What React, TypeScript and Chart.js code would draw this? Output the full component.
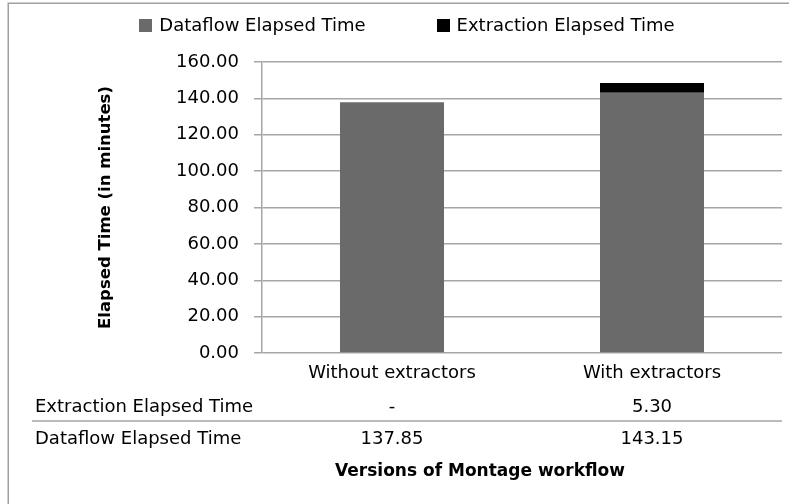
import React, { useEffect, useRef } from "react";
import { Chart, registerables } from "chart.js";

Chart.register(...registerables);

// ---- data ----
const categories = ["Without extractors", "With extractors"];
const dataflowTimes = [137.85, 143.15];
const extractionTimes = [0, 5.3];
const seriesNames = ["Dataflow Elapsed Time", "Extraction Elapsed Time"];
const seriesColors = ["#6a6a6a", "#000000"];
const yMin = 0;
const yMax = 160;
const yStep = 20;
const yTitle = "Elapsed Time (in minutes)";
const xTitle = "Versions of Montage workflow";
// order of rows in the data table (dataset indexes)
const tableRowOrder = [1, 0];

const FONT = "'DejaVu Sans', sans-serif";
const GRID = "#a6a6a6";

const fmt = (v: number) => (v === 0 ? "-" : v.toFixed(2));

const decorPlugin = {
  id: "decor",
  afterDraw(chart: any) {
    const { ctx, scales, chartArea } = chart;
    const xs = scales.x;
    ctx.save();

    // outer frame (left and top edges visible)
    ctx.strokeStyle = "#a0a0a0";
    ctx.lineWidth = 1.5;
    ctx.beginPath();
    ctx.moveTo(8.25, chart.height);
    ctx.lineTo(8.25, 3.25);
    ctx.lineTo(chart.width, 3.25);
    ctx.stroke();

    const tableLeft = 32;
    const groupCenter = (tableLeft + chartArea.right) / 2;

    // legend
    ctx.font = `18px ${FONT}`;
    ctx.textBaseline = "middle";
    const ds = chart.data.datasets;
    const box = 13;
    const gapBT = 7;
    const gapItems = 71;
    const widths = ds.map((d: any) => box + gapBT + ctx.measureText(d.label).width);
    const total = widths.reduce((a: number, b: number) => a + b, 0) + gapItems * (ds.length - 1);
    let lx = groupCenter - total / 2;
    const ly = 25;
    ds.forEach((d: any, i: number) => {
      ctx.fillStyle = d.backgroundColor;
      ctx.fillRect(Math.round(lx), Math.round(ly - box / 2), box, box);
      ctx.fillStyle = "#000";
      ctx.textAlign = "left";
      ctx.fillText(d.label, lx + box + gapBT, ly + 1);
      lx += widths[i] + gapItems;
    });

    // data table
    const rowYs = [chartArea.bottom + 54, chartArea.bottom + 86];
    const sepY = chartArea.bottom + 68;
    ctx.strokeStyle = GRID;
    ctx.lineWidth = 1.5;
    ctx.beginPath();
    ctx.moveTo(tableLeft, sepY);
    ctx.lineTo(chartArea.right, sepY);
    ctx.stroke();

    ctx.font = `18px ${FONT}`;
    ctx.fillStyle = "#000";
    tableRowOrder.forEach((dsIndex, r) => {
      const d = ds[dsIndex];
      const y = rowYs[r];
      ctx.textAlign = "left";
      ctx.fillText(d.label, tableLeft + 3, y);
      ctx.textAlign = "center";
      d.data.forEach((v: number, i: number) => {
        ctx.fillText(fmt(v), xs.getPixelForValue(i), y);
      });
    });

    // x axis title
    ctx.font = `bold 17px ${FONT}`;
    ctx.textAlign = "center";
    ctx.fillText(xTitle, 480, chartArea.bottom + 119);

    ctx.restore();
  },
};

export default function App() {
  const ref = useRef<HTMLCanvasElement | null>(null);

  useEffect(() => {
    if (!ref.current) return;
    Chart.defaults.font.family = FONT;
    Chart.defaults.color = "#000";
    const chart = new Chart(ref.current, {
      type: "bar",
      data: {
        labels: categories,
        datasets: [
          {
            label: seriesNames[0],
            data: dataflowTimes,
            backgroundColor: seriesColors[0],
            barPercentage: 0.4,
            categoryPercentage: 1,
          },
          {
            label: seriesNames[1],
            data: extractionTimes,
            backgroundColor: seriesColors[1],
            barPercentage: 0.4,
            categoryPercentage: 1,
          },
        ],
      },
      options: {
        animation: false,
        responsive: false,
        devicePixelRatio: 1,
        layout: { padding: { top: 62, left: 0, right: 7, bottom: 0 } },
        plugins: {
          legend: { display: false },
          tooltip: { enabled: false },
        },
        scales: {
          x: {
            stacked: true,
            grid: { display: false, drawTicks: false },
            border: { display: false },
            ticks: { font: { size: 18 }, color: "#000", padding: 10, maxRotation: 0 },
            afterFit: (s: any) => {
              s.height = 151;
            },
          },
          y: {
            stacked: true,
            min: yMin,
            max: yMax,
            grid: { color: GRID, lineWidth: 1.5, tickLength: 8, drawTicks: true },
            border: { color: GRID, width: 1.5 },
            ticks: {
              stepSize: yStep,
              font: { size: 18 },
              color: "#000",
              padding: 15,
              callback: (v: any) => Number(v).toFixed(2),
            },
            title: {
              display: true,
              text: yTitle,
              font: { size: 16.5, weight: "bold" },
              color: "#000",
              padding: { top: 96, bottom: 0 },
            },
            afterFit: (s: any) => {
              s.width = 262;
            },
          },
        },
      },
      plugins: [decorPlugin],
    });
    return () => chart.destroy();
  }, []);

  return (
    <div style={{ position: "fixed", left: 0, top: 0, width: 789, height: 504, background: "#fff" }}>
      <canvas ref={ref} width={789} height={504} />
    </div>
  );
}
